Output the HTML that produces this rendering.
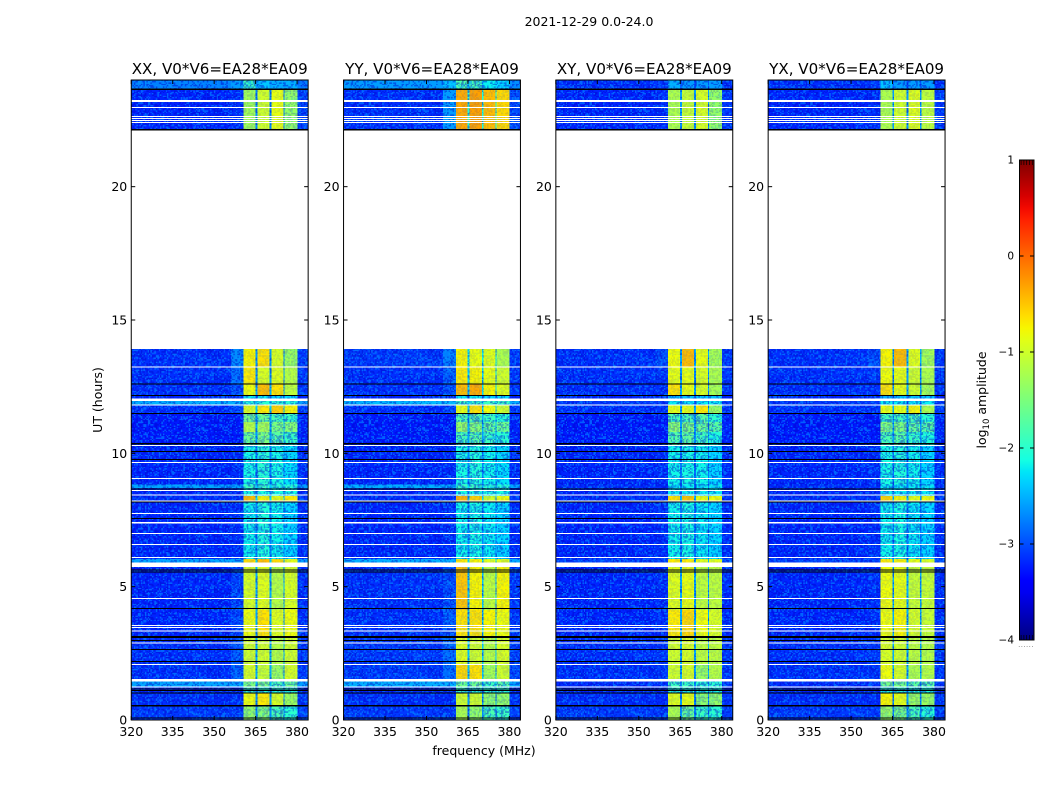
<!DOCTYPE html>
<html lang="en">
<head>
<meta charset="utf-8">
<title>2021-12-29 dynamic spectra</title>
<style>
html,body{margin:0;padding:0;background:#fff;}
svg{display:block;}
text{font-family:"DejaVu Sans","Liberation Sans",sans-serif;fill:#000;}
</style>
</head>
<body>
<svg id="figure" xmlns="http://www.w3.org/2000/svg" width="1050" height="800" viewBox="0 0 1050 800">
  <rect width="1050" height="800" fill="#fff"/>
  <defs>
    <linearGradient id="jetGradient" x1="0" y1="1" x2="0" y2="0"></linearGradient>
    <pattern id="grain" patternUnits="userSpaceOnUse" width="110.4" height="106.4">
      <path id="grainBright" fill="#0098ff" fill-opacity="0.55" shape-rendering="crispEdges"/>
      <path id="grainDark" fill="#0000c8" fill-opacity="0.45" shape-rendering="crispEdges"/>
    </pattern>
  </defs>
  <text x="589" y="26" font-size="12.5" text-anchor="middle">2021-12-29 0.0-24.0</text>
  <text x="484" y="755" font-size="12.5" text-anchor="middle">frequency (MHz)</text>
  <text transform="translate(102,400) rotate(-90)" font-size="12.5" text-anchor="middle">UT (hours)</text>
  <g id="panels"></g>
  <g id="colorbar"></g>
</svg>
<script>
// Frequency columns (MHz): left background, shoulder, then four sub-bands with gaps, right background
const freqEdges = [320, 356, 360.6, 364.9, 365.6, 370, 370.7, 375, 375.4, 380.1, 384];
// Which level in a row each frequency column reads
const columnLevel = [0, 1, 3, 2, 4, 2, 5, 2, 6, 7];
// Time segments, top to bottom (UT hours)
const hourEdges = [24, 23.69, 22.11, 13.91, 13.25, 12.6, 12.15, 11.97, 11.84, 11.51, 11.18, 10.8, 10.31, 8.84, 8.7, 8.4, 8.24, 6.04, 5.9, 4.125, 3.15, 2.06, 1.44, 1.26, 1.01, 0.56, 0];
// log10 amplitude per segment: [left, shoulder, gap, sub1, sub2, sub3, sub4, right]
const xxLevels = [
[-2.75,-2.6,-2.6,-1.9,-2.4,-2.5,-2.5,-2.8],
[-3.2,-3.15,-2.7,-1.25,-1.0,-0.85,-1.35,-3.05],
null,
[-3.15,-2.7,-2.6,-0.75,-0.65,-0.95,-1.3,-3.1],
[-3.15,-2.85,-2.6,-0.7,-0.95,-0.9,-1.15,-3.1],
[-3.15,-3.0,-2.5,-0.8,-0.45,-0.65,-1.1,-3.1],
[-3.2,-3.2,-3,-2.2,-2.2,-2.3,-2.3,-3.2],
[-2.5,-2.5,-2.3,-2,-2,-2,-2,-2.6],
[-3.15,-3.05,-2.3,-0.9,-0.7,-0.55,-0.75,-3.1],
[-3.25,-3.25,-2.5,-1.55,-1.6,-1.8,-1.9,-3.2],
[-3.25,-3.25,-2.5,-1.15,-1.25,-1.5,-1.45,-3.2],
[-3.25,-3.25,-2.6,-1.6,-1.5,-1.7,-1.9,-3.2],
[-3.2,-3.15,-2.75,-2.1,-2.0,-2.1,-2.25,-3.15],
[-2.55,-2.55,-2.3,-1.9,-1.9,-2,-2,-2.6],
[-3.2,-3.15,-2.7,-2.1,-2.1,-2.1,-2.1,-3.15],
[-3.15,-3.15,-2.3,-0.45,-0.75,-0.85,-0.7,-3.1],
[-3.2,-3.15,-2.75,-2.15,-2.05,-2.15,-2.3,-3.15],
[-2.55,-2.55,-2.2,-0.6,-0.45,-0.6,-0.85,-2.6],
[-3.2,-3.05,-2.5,-0.95,-0.9,-1.15,-0.95,-3.15],
[-3.2,-3.05,-2.5,-0.8,-0.65,-0.9,-0.8,-3.15],
[-3.15,-2.95,-2.5,-1.0,-1.0,-1.15,-1.0,-3.1],
[-3.15,-2.9,-2.5,-0.95,-1.05,-1.3,-0.95,-3.1],
[-2.55,-2.55,-2.4,-1.5,-1.5,-1.8,-1.6,-2.6],
[-3.2,-3.2,-2.8,-1.9,-2,-2,-2,-3.2],
[-3.15,-3.15,-2.6,-0.8,-0.7,-0.95,-1.3,-3.1],
[-3.1,-3.1,-2.7,-1.35,-1.45,-1.8,-2.0,-3.05]
];
const yyLevels = [
[-2.6,-2.4,-2.4,-1.8,-1.8,-2.2,-2.3,-2.7],
[-3.15,-2.6,-2.1,-0.35,-0.3,-0.45,-0.6,-3.0],
null,
[-3.1,-2.75,-2.2,-0.75,-0.85,-0.9,-1.2,-3.1],
[-3.15,-2.9,-2.3,-0.7,-0.75,-0.85,-1.0,-3.1],
[-3.15,-3.0,-2.3,-0.45,-0.35,-0.75,-0.9,-3.1],
[-3.2,-3.2,-3,-2.2,-2.2,-2.3,-2.3,-3.2],
[-2.45,-2.45,-2.3,-1.9,-1.9,-1.9,-1.9,-2.5],
[-3.15,-3.05,-2.3,-0.85,-0.65,-0.8,-1,-3.1],
[-3.25,-3.25,-2.5,-1.75,-1.7,-1.9,-2,-3.2],
[-3.25,-3.25,-2.5,-1.35,-1.45,-1.65,-1.6,-3.2],
[-3.25,-3.25,-2.6,-1.8,-1.7,-1.9,-2,-3.2],
[-3.2,-3.15,-2.75,-2.1,-2.05,-2.15,-2.25,-3.15],
[-2.5,-2.5,-2.3,-1.9,-1.9,-2,-2,-2.55],
[-3.2,-3.15,-2.7,-2.1,-2.1,-2.1,-2.1,-3.15],
[-3.15,-3.15,-2.3,-0.4,-0.55,-1.0,-0.8,-3.1],
[-3.2,-3.15,-2.75,-2.15,-2.1,-2.2,-2.3,-3.15],
[-2.5,-2.5,-2.2,-0.7,-0.75,-0.9,-0.9,-2.55],
[-3.15,-3.0,-2.4,-0.5,-0.75,-1.1,-0.75,-3.1],
[-3.15,-2.95,-2.4,-0.65,-0.65,-0.75,-0.8,-3.1],
[-3.1,-2.85,-2.4,-0.9,-1.0,-1.15,-0.95,-3.05],
[-3.1,-2.85,-2.4,-0.6,-0.65,-1.25,-1,-3.05],
[-2.5,-2.5,-2.4,-1.6,-1.6,-1.9,-1.7,-2.55],
[-3.2,-3.2,-2.8,-1.9,-2,-2,-2,-3.2],
[-3.15,-3.15,-2.6,-1.0,-1.0,-1.35,-1.35,-3.1],
[-3.1,-3.1,-2.7,-1.2,-1.35,-1.8,-1.9,-3.05]
];
const xyLevels = [
[-3.15,-3.1,-3,-2.5,-2.6,-2.6,-2.6,-3.15],
[-3.2,-3.15,-2.6,-1.2,-1.05,-0.95,-1.35,-3.1],
null,
[-3.15,-3.0,-2.5,-0.8,-0.45,-0.85,-1.25,-3.1],
[-3.15,-3.1,-2.6,-0.85,-0.85,-0.95,-1.2,-3.1],
[-3.15,-3.15,-2.5,-0.65,-0.85,-0.95,-1.25,-3.1],
[-3.2,-3.2,-3,-2.4,-2.4,-2.4,-2.4,-3.2],
[-3.1,-3.1,-2.9,-2.2,-2.2,-2.2,-2.2,-3.1],
[-3.15,-3.1,-2.5,-0.85,-0.85,-0.7,-1.3,-3.1],
[-3.25,-3.25,-2.6,-1.8,-1.8,-1.7,-2.0,-3.2],
[-3.25,-3.25,-2.6,-1.4,-1.5,-1.6,-1.7,-3.2],
[-3.25,-3.25,-2.6,-1.75,-1.65,-1.85,-2.05,-3.2],
[-3.2,-3.15,-2.8,-2.15,-2.1,-2.15,-2.3,-3.15],
[-3.15,-3.15,-2.8,-2.2,-2.2,-2.2,-2.2,-3.15],
[-3.2,-3.15,-2.75,-2.2,-2.2,-2.2,-2.2,-3.15],
[-3.15,-3.15,-2.4,-0.65,-0.5,-0.85,-0.8,-3.1],
[-3.2,-3.15,-2.8,-2.15,-2.1,-2.2,-2.3,-3.15],
[-3.05,-3.05,-2.5,-0.7,-0.7,-0.9,-0.9,-3.0],
[-3.2,-3.15,-2.5,-0.9,-0.85,-1.1,-1.1,-3.15],
[-3.2,-3.15,-2.5,-0.7,-0.6,-0.8,-0.95,-3.15],
[-3.15,-3.1,-2.5,-1.0,-0.95,-1.1,-1.1,-3.1],
[-3.15,-3.1,-2.5,-1.0,-0.95,-1.3,-1.15,-3.1],
[-3.15,-3.15,-2.7,-1.9,-1.9,-2,-2,-3.1],
[-3.2,-3.2,-2.8,-2,-2,-2.1,-2.1,-3.2],
[-3.15,-3.15,-2.6,-0.9,-0.85,-1.4,-1.35,-3.1],
[-3.1,-3.1,-2.7,-1.2,-1.6,-1.9,-2.0,-3.05]
];
const yxLevels = [
[-3.15,-3.1,-3,-2.4,-2.6,-2.6,-2.6,-3.15],
[-3.2,-3.15,-2.6,-1.2,-1.0,-0.9,-1.1,-3.1],
null,
[-3.15,-3.0,-2.5,-0.75,-0.45,-0.9,-1.25,-3.1],
[-3.15,-3.1,-2.6,-0.8,-0.85,-1.0,-1.2,-3.1],
[-3.15,-3.15,-2.5,-0.65,-0.85,-1.0,-1.25,-3.1],
[-3.2,-3.2,-3,-2.4,-2.4,-2.4,-2.4,-3.2],
[-3.1,-3.1,-2.9,-2.2,-2.2,-2.2,-2.2,-3.1],
[-3.15,-3.1,-2.5,-0.85,-0.85,-0.75,-1.2,-3.1],
[-3.25,-3.25,-2.6,-1.85,-1.85,-1.8,-2.0,-3.2],
[-3.25,-3.25,-2.6,-1.45,-1.5,-1.65,-1.7,-3.2],
[-3.25,-3.25,-2.6,-1.8,-1.7,-1.9,-2.05,-3.2],
[-3.2,-3.15,-2.8,-2.1,-2.05,-2.15,-2.3,-3.15],
[-3.15,-3.15,-2.8,-2.2,-2.2,-2.2,-2.2,-3.15],
[-3.2,-3.15,-2.75,-2.2,-2.2,-2.2,-2.2,-3.15],
[-3.15,-3.15,-2.4,-0.6,-0.75,-0.85,-0.8,-3.1],
[-3.2,-3.15,-2.8,-2.15,-2.1,-2.2,-2.3,-3.15],
[-3.05,-3.05,-2.5,-0.7,-0.75,-0.85,-0.95,-3.0],
[-3.2,-3.15,-2.5,-0.8,-0.85,-1.05,-1.05,-3.15],
[-3.2,-3.15,-2.5,-0.8,-0.75,-0.95,-1.05,-3.15],
[-3.15,-3.1,-2.5,-0.95,-1.0,-1.1,-1.15,-3.1],
[-3.15,-3.1,-2.5,-0.8,-0.95,-1.2,-1.15,-3.1],
[-3.15,-3.15,-2.7,-1.55,-1.55,-1.7,-1.7,-3.1],
[-3.2,-3.2,-2.8,-2,-2,-2.1,-2.1,-3.2],
[-3.15,-3.15,-2.6,-0.75,-0.85,-1.3,-1.3,-3.1],
[-3.1,-3.1,-2.7,-1.3,-1.5,-1.8,-2.0,-3.05]
];
// Time ranges with no data (white), [start, end] UT hours
const blankHours = [[23.25,23.175],[22.9875,22.95],[22.65,22.61],[22.575,22.54],[22.5,22.47],[22.425,22.39],[22.11,13.91],[13.25,13.21],[12.05,11.97],[11.84,11.79],[10.31,10.275],[9.675,9.64],[9.075,9.04],[8.625,8.58],[8.45,8.41],[8.24,8.2],[7.77,7.74],[7.425,7.36],[7.01,6.975],[6.6,6.56],[6.11,6.075],[5.9,5.74],[4.575,4.54],[3.57,3.54],[3.49,3.45],[3.35,3.31],[2.91,2.875],[2.1,2.06],[1.54,1.45],[1.25,1.21]];
// Time ranges with flagged-to-zero data (black), [start, end] UT hours
const zeroHours = [[23.69,23.625],[22.17,22.11],[12.62,12.6],[12.19,12.15],[11.51,11.49],[10.38,10.34],[10.08,10.05],[9.78,9.75],[8.69,8.65],[8.19,8.15],[7.575,7.54],[5.64,5.6],[5.57,5.54],[4.2,4.16],[3.15,3.075],[3.0,2.96],[2.66,2.625],[2.22,2.2],[1.19,1.16],[1.125,1.09],[1.04,1.01],[0.56,0.51],[0.1,0.05]];
const panelTitles = ["XX, V0*V6=EA28*EA09","YY, V0*V6=EA28*EA09","XY, V0*V6=EA28*EA09","YX, V0*V6=EA28*EA09"];
const panelKeys = ["xx","yy","xy","yx"];
const panelLevels = [xxLevels, yyLevels, xyLevels, yxLevels];
const freqTicks = [320,335,350,365,380];
const hourTicks = [0,5,10,15,20];
const colorTicks = [1,0,-1,-2,-3,-4];

const NS = "http://www.w3.org/2000/svg";
const plotTop = 80, plotBottom = 720, plotW = 176.9, plotGap = 35.4, plotLeft = 131.25;
const freqMin = 320, freqMax = 384, hourMin = 0, hourMax = 24, valueMin = -4, valueMax = 1;

function panelX(i){ return plotLeft + i * (plotW + plotGap); }
function xScale(i, f){ return panelX(i) + (f - freqMin) / (freqMax - freqMin) * plotW; }
function yScale(h){ return plotBottom - (h - hourMin) / (hourMax - hourMin) * (plotBottom - plotTop); }

function lerpStops(stops, p){
  for (let k = 1; k < stops.length; k++) {
    if (p <= stops[k][0]) {
      const a = stops[k-1], b = stops[k];
      return a[1] + (b[1]-a[1]) * (p-a[0]) / (b[0]-a[0]);
    }
  }
  return stops[stops.length-1][1];
}
const jetR = [[0,0],[0.35,0],[0.66,1],[0.89,1],[1,0.5]];
const jetG = [[0,0],[0.125,0],[0.375,1],[0.64,1],[0.91,0],[1,0]];
const jetB = [[0,0.5],[0.11,1],[0.34,1],[0.65,0],[1,0]];
function jet(p){
  p = Math.max(0, Math.min(1, p));
  return "rgb(" + Math.round(255*lerpStops(jetR,p)) + "," + Math.round(255*lerpStops(jetG,p)) + "," + Math.round(255*lerpStops(jetB,p)) + ")";
}
function colorOf(v){ return jet((v - valueMin) / (valueMax - valueMin)); }
// Speckle shows strongly on faint cells and only weakly on bright sub-bands
function grainStrength(v){ return v < -1.7 ? 1 : (v > -1.2 ? 0.25 : 0.25 + (-1.2 - v) / 0.5 * 0.75); }

function svgEl(tag, parent, attrs){
  const el = document.createElementNS(NS, tag);
  for (const k in attrs) el.setAttribute(k, attrs[k]);
  parent.appendChild(el);
  return el;
}

// Decorative speckle tile (visual grain only, not data)
(function(){
  let bright = "", dark = "";
  const cw = 1.38, ch = 1.33;
  for (let r = 0; r < 80; r++) {
    for (let c = 0; c < 80; c++) {
      let h = Math.imul(r + 17, 73856093) ^ Math.imul(c + 31, 19349663);
      h = Math.imul(h ^ (h >>> 13), 1274126177);
      h = (h ^ (h >>> 16)) >>> 0;
      const t = h % 100;
      const seg = "M" + (c*cw).toFixed(2) + " " + (r*ch).toFixed(2) + "h" + cw + "v" + ch + "h-" + cw + "z";
      if (t < 22) bright += seg;
      else if (t < 52) dark += seg;
    }
  }
  document.getElementById("grainBright").setAttribute("d", bright);
  document.getElementById("grainDark").setAttribute("d", dark);
})();

const panelsRoot = document.getElementById("panels");
panelKeys.forEach(function(key, i){
  const g = svgEl("g", panelsRoot, {});
  
  

  const cells = svgEl("g", g, {"shape-rendering":"crispEdges"});
  
  
  const levels = panelLevels[i];
  for (let s = 0; s < hourEdges.length - 1; s++) {
    const row = levels[s];
    if (!row) continue;
    const y0 = yScale(hourEdges[s]), y1 = yScale(hourEdges[s+1]);
    for (let c = 0; c < freqEdges.length - 1; c++) {
      const x0 = xScale(i, freqEdges[c]), x1 = xScale(i, freqEdges[c+1]);
      const v = row[columnLevel[c]];
      const cell = svgEl("rect", cells, {x:x0, y:y0, width:x1-x0, height:y1-y0, fill:colorOf(v)});
      
      
      const speck = svgEl("rect", cells, {x:x0, y:y0, width:x1-x0, height:y1-y0, fill:"url(#grain)", opacity:grainStrength(v)});
      
      
    }
  }

  const stripes = svgEl("g", g, {"shape-rendering":"crispEdges"});
  
  
  blankHours.forEach(function(b){
    const st = svgEl("rect", stripes, {x:panelX(i), y:yScale(b[0]), width:plotW, height:Math.max(1, yScale(b[1])-yScale(b[0])), fill:"#fff"});
    
    
  });
  zeroHours.forEach(function(b){
    const st = svgEl("rect", stripes, {x:panelX(i), y:yScale(b[0]), width:plotW, height:Math.max(1, yScale(b[1])-yScale(b[0])), fill:"#000"});
    
    
  });

  const frame = svgEl("rect", g, {x:panelX(i), y:plotTop, width:plotW, height:plotBottom-plotTop, fill:"none", stroke:"#000", "stroke-width":1});
  
  

  const title = svgEl("text", g, {x:panelX(i)+plotW/2, y:74, "font-size":15.1, "text-anchor":"middle"});
  
  
  title.textContent = panelTitles[i];

  freqTicks.forEach(function(f){
    const x = xScale(i, f);
    const t1 = svgEl("line", g, {x1:x, x2:x, y1:plotBottom, y2:plotBottom-4, stroke:"#000"});
    
    
    const t2 = svgEl("line", g, {x1:x, x2:x, y1:plotTop, y2:plotTop+4, stroke:"#000"});
    
    
    const lab = svgEl("text", g, {x:x, y:736, "font-size":12.5, "text-anchor":"middle"});
    
    
    lab.textContent = String(f);
  });
  hourTicks.forEach(function(h){
    const y = yScale(h);
    const t1 = svgEl("line", g, {x1:panelX(i), x2:panelX(i)+4, y1:y, y2:y, stroke:"#000"});
    
    
    const t2 = svgEl("line", g, {x1:panelX(i)+plotW, x2:panelX(i)+plotW-4, y1:y, y2:y, stroke:"#000"});
    
    
    const lab = svgEl("text", g, {x:panelX(i)-4, y:y+4.5, "font-size":12.5, "text-anchor":"end"});
    
    
    lab.textContent = String(h);
  });
});

// Colorbar
const cbLeft = 1019.5, cbRight = 1034, cbTop = 160, cbBottom = 640;
function cbY(v){ return cbBottom - (v - valueMin) / (valueMax - valueMin) * (cbBottom - cbTop); }
const grad = document.getElementById("jetGradient");
for (let k = 0; k <= 40; k++) {
  const stop = svgEl("stop", grad, {offset:(k/40), "stop-color":jet(k/40)});
}
const cbRoot = document.getElementById("colorbar");
const cbBar = svgEl("rect", cbRoot, {x:cbLeft, y:cbTop, width:cbRight-cbLeft, height:cbBottom-cbTop, fill:"url(#jetGradient)", stroke:"#000", "stroke-width":1});


colorTicks.forEach(function(v){
  const y = cbY(v);
  const t1 = svgEl("line", cbRoot, {x1:cbLeft, x2:cbLeft+4, y1:y, y2:y, stroke:"#000"});
  
  
  const t2 = svgEl("line", cbRoot, {x1:cbRight, x2:cbRight-4, y1:y, y2:y, stroke:"#000"});
  
  
  const lab = svgEl("text", cbRoot, {x:1014, y:y+3.5, "font-size":10.5, "text-anchor":"end"});
  
  
  lab.textContent = (v < 0 ? "\u2212" + Math.abs(v) : String(v));
});
[cbTop, cbBottom].forEach(function(edge, n){
  for (let k = 0; k < 5; k++) {
    const x = cbLeft + 1.6 + k * 2.8;
    const m = svgEl("line", cbRoot, {x1:x, x2:x, y1:edge, y2:n === 0 ? edge+5 : edge-5, stroke:"#000", "stroke-width":0.7});
    
    
  }
});
const dots = svgEl("text", cbRoot, {x:1026, y:647, "font-size":7, "text-anchor":"middle", style:"fill:#777;letter-spacing:0.4px"});


dots.textContent = "......";
const cbTitle = svgEl("text", cbRoot, {transform:"translate(986,400) rotate(-90)", "font-size":12.5, "text-anchor":"middle"});


cbTitle.appendChild(document.createTextNode("log"));
const sub = svgEl("tspan", cbTitle, {dy:3, "font-size":8.5});
sub.textContent = "10";
const rest = svgEl("tspan", cbTitle, {dy:-3});
rest.textContent = " amplitude";
</script>
</body>
</html>
